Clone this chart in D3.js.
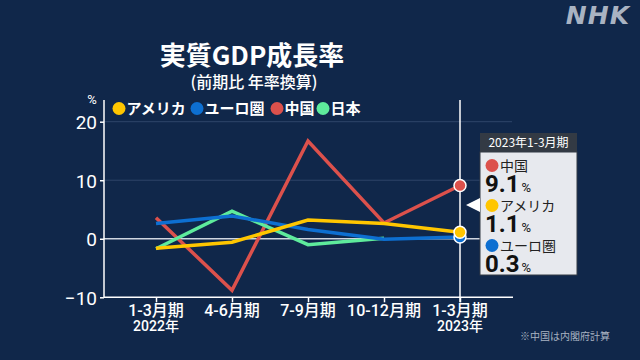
<!DOCTYPE html>
<html><head><meta charset="utf-8">
<script src="https://cdn.jsdelivr.net/npm/d3@7"></script>
<style>
html,body{margin:0;padding:0;background:#10274a;}
svg{display:block;font-family:"Noto Sans CJK JP","Noto Sans",sans-serif;}
</style></head><body>
<svg id="c" width="640" height="360"></svg>
<script>
const categories = ["1-3月期","4-6月期","7-9月期","10-12月期","1-3月期"];
const yearLabels = ["2022年","","","","2023年"];
const usa   = [-1.6, -0.6, 3.2, 2.6, 1.1];
const euro  = [2.6, 3.9, 1.6, -0.1, 0.3];
const china = [3.6, -8.8, 16.7, 2.7, 9.1];
const japan = [-1.7, 4.7, -1.0, 0.1];
const yTicks = [-10, 0, 10, 20];
const seriesNames = ["アメリカ","ユーロ圏","中国","日本"];
const seriesColors = ["#ffc600","#0d6fd1","#dc514c","#5eeb9c"];
const tooltipTitle = "2023年1-3月期";
const tooltipOrder = [2, 0, 1];

const svg = d3.select("#c");
const W = 640, H = 360;
const latinCJK = "Roboto, 'Noto Sans CJK JP', sans-serif";
svg.append("rect").attr("width",W).attr("height",H).attr("fill","#10274a");

const x = d3.scalePoint().domain(d3.range(categories.length)).range([156, 460]);
const y = d3.scaleLinear().domain([-10, 20]).range([297.3, 121.7]);

// title
svg.append("text").attr("x",252).attr("y",65).attr("text-anchor","middle")
  .attr("fill","#fff").attr("font-size",26).attr("font-weight","bold").text("実質GDP成長率");
svg.append("text").attr("x",254).attr("y",88).attr("text-anchor","middle")
  .attr("fill","#fff").attr("font-size",16).attr("font-weight",500).text("(前期比 年率換算)");

// NHK logo
svg.append("text").attr("x",630).attr("y",24).attr("text-anchor","end")
  .attr("fill","#a9b3c2").attr("font-size",25).attr("font-weight","900")
  .attr("font-style","italic").attr("font-family","DejaVu Sans, sans-serif")
  .attr("letter-spacing",1).text("NHK");

// gridlines
svg.append("g").selectAll("line").data(yTicks.filter(d=>d>0)).join("line")
  .attr("x1",104).attr("x2",512).attr("y1",d=>y(d)).attr("y2",d=>y(d))
  .attr("stroke","#2e4569").attr("stroke-width",1);

// zero line
svg.append("line").attr("x1",104).attr("x2",500).attr("y1",y(0)).attr("y2",y(0))
  .attr("stroke","#cfd6e0").attr("stroke-width",1.5);

// y axis
const yAxis = d3.axisLeft(y).tickValues(yTicks).tickSize(4).tickPadding(3).tickSizeOuter(0);
const gy = svg.append("g").attr("transform","translate(104,0)").call(yAxis);
gy.select(".domain").remove();
gy.selectAll("line").attr("stroke","#fff").attr("stroke-width",1.5);
gy.selectAll("text").attr("fill","#fff").attr("font-size",19).attr("font-family","Roboto, sans-serif")
  .attr("dy","0.36em");
svg.append("line").attr("x1",104).attr("x2",104).attr("y1",100).attr("y2",y(-10))
  .attr("stroke","#fff").attr("stroke-width",1.5);
svg.append("text").attr("x",92).attr("y",104).attr("text-anchor","middle")
  .attr("fill","#fff").attr("font-size",13).attr("font-family","Roboto, sans-serif").text("%");

// x axis
const xAxis = d3.axisBottom(x).tickSize(5).tickFormat(()=>"").tickSizeOuter(0);
const gx = svg.append("g").attr("transform",`translate(0,${y(-10)})`).call(xAxis);
gx.select(".domain").remove();
gx.selectAll("line").attr("stroke","#fff").attr("stroke-width",1.5);
svg.append("line").attr("x1",104).attr("x2",513).attr("y1",y(-10)).attr("y2",y(-10))
  .attr("stroke","#fff").attr("stroke-width",1.5);
svg.append("g").selectAll("text").data(categories).join("text")
  .attr("x",(d,i)=>x(i)).attr("y",316).attr("text-anchor","middle")
  .attr("font-family",latinCJK)
  .attr("fill","#fff").attr("font-size",16).attr("font-weight",500).text(d=>d);
svg.append("g").selectAll("text").data(yearLabels).join("text")
  .attr("x",(d,i)=>x(i)).attr("y",331).attr("text-anchor","middle")
  .attr("font-family",latinCJK)
  .attr("fill","#fff").attr("font-size",14).attr("font-weight",500).text(d=>d);

// vertical highlight line
svg.append("line").attr("x1",x(4)).attr("x2",x(4)).attr("y1",100).attr("y2",y(-10)+5)
  .attr("stroke","#fff").attr("stroke-width",1.5);

// series lines
const line = d3.line().x((d,i)=>x(i)).y(d=>y(d));
const allSeries = [usa, euro, china, japan];
const drawOrder = [2, 3, 1, 0];
drawOrder.forEach(k=>{
  svg.append("path").datum(allSeries[k]).attr("d",line).attr("fill","none")
    .attr("stroke",seriesColors[k]).attr("stroke-width",3.5).attr("stroke-linejoin","miter");
});

// end markers
[1, 0, 2].forEach(k=>{
  const v = allSeries[k][4];
  svg.append("circle").attr("cx",x(4)).attr("cy",y(v)).attr("r",6)
    .attr("fill",seriesColors[k]).attr("stroke","#fff").attr("stroke-width",1.5);
});

// legend
const legendX = [119, 197, 277, 323];
seriesNames.forEach((n,i)=>{
  svg.append("circle").attr("cx",legendX[i]).attr("cy",108.5).attr("r",6.5).attr("fill",seriesColors[i]);
  svg.append("text").attr("x",legendX[i]+7.5).attr("y",114).attr("fill","#fff")
    .attr("font-size",15).attr("font-weight","bold").text(n);
});

// tooltip
const tx = 480, tw = 97, ty = 133;
svg.append("rect").attr("x",tx).attr("y",ty).attr("width",tw).attr("height",19).attr("fill","#333a44");
svg.append("text").attr("x",tx+tw/2).attr("y",ty+14).attr("text-anchor","middle")
  .attr("fill","#fff").attr("font-size",12).text(tooltipTitle);
svg.append("rect").attr("x",tx).attr("y",ty+19).attr("width",tw).attr("height",123)
  .attr("fill","#e7e9ee").attr("stroke","#333a44").attr("stroke-width",1);
svg.append("path").attr("d",d3.line()([[466,205],[480,198],[480,212]])+"Z").attr("fill","#fff");
tooltipOrder.forEach((k,j)=>{
  const cy = 165.5 + j*40;
  svg.append("circle").attr("cx",492).attr("cy",cy).attr("r",6.5).attr("fill",seriesColors[k]);
  svg.append("text").attr("x",500).attr("y",cy+5).attr("fill","#222")
    .attr("font-size",14).text(seriesNames[k]);
  const t = svg.append("text").attr("x",485).attr("y",cy+26.5).attr("fill","#111")
    .attr("font-family","Roboto, sans-serif");
  t.append("tspan").attr("font-size",24).attr("font-weight","bold")
    .text(d3.format(".1f")(allSeries[k][4]));
  t.append("tspan").attr("font-size",13).attr("dx",2).text("%");
});

// footnote
svg.append("text").attr("x",520).attr("y",340).attr("fill","#a9b3c2")
  .attr("font-size",10).text("※中国は内閣府計算");
</script>
</body></html>
